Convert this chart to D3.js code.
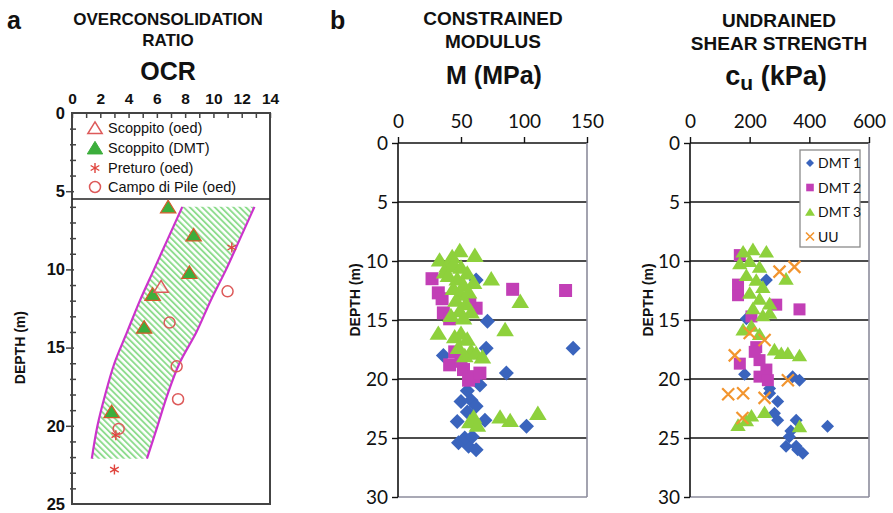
<!DOCTYPE html>
<html><head><meta charset="utf-8">
<script src="https://cdn.jsdelivr.net/npm/d3@7"></script>
<style>
body{margin:0;background:#fff}
svg{display:block}
text{fill:#111}
</style>
</head><body>
<svg id="fig" width="893" height="513"></svg>
<script>
// ---------------- data ----------------
// (a) overconsolidation ratio vs depth: [OCR, depth m]
const ocrTicks = [0, 2, 4, 6, 8, 10, 12, 14];
const depthTicksA = [0, 5, 10, 15, 20, 25];
const scoppitoOed = [[6.3, 11.1]];
const scoppitoDmt = [[6.8, 6.0], [8.6, 7.8], [8.3, 10.2], [5.7, 11.6], [5.1, 13.7], [2.8, 19.1]];
const preturoOed = [[11.3, 8.6], [3.1, 20.6], [3.0, 22.8]];
const campoDiPileOed = [[11.0, 11.4], [6.9, 13.4], [7.4, 16.2], [7.5, 18.3], [3.3, 20.2]];
// OCR band limits
const bandDepth = [6, 8, 10, 12, 14, 16, 18, 20, 22.1];
const bandLow = [7.8, 6.8, 5.8, 4.8, 3.9, 3.0, 2.35, 1.8, 1.4];
const bandHigh = [12.9, 11.9, 10.9, 9.8, 8.8, 7.6, 6.75, 6.05, 5.3];

// (b) constrained modulus: [M MPa, depth m]
const mTicks = [0, 50, 100, 150];
const depthTicksB = [0, 5, 10, 15, 20, 25, 30];
const mDmt1 = [[62, 11.6], [71, 15.1], [70, 17.4], [36, 18.0], [139, 17.4], [86, 19.5], [65, 20.5],
  [58, 21.8], [50, 21.9], [62, 22.3], [55, 21.0], [69, 23.5], [47, 23.6], [102, 24.0], [48, 25.4],
  [56, 25.7], [62, 26.0], [53, 25.0], [59, 24.9], [55, 22.8]];
const mDmt2 = [[27, 11.5], [32, 12.7], [35, 13.2], [91, 12.4], [133, 12.5], [36, 14.4], [41, 14.9],
  [62, 14.0], [57, 13.6], [41, 18.8], [52, 19.2], [60, 19.8], [56, 20.1], [65, 19.5], [45, 17.7], [50, 18.5]];
const mDmt3 = [[33, 9.9], [49, 9.1], [61, 9.5], [43, 9.6], [39, 10.4], [44, 10.2], [50, 10.5], [55, 11.0],
  [37, 10.9], [40, 11.2], [47, 11.5], [60, 11.8], [52, 12.0], [44, 12.3], [50, 12.8], [56, 12.6], [46, 13.3],
  [54, 13.6], [49, 14.2], [58, 14.3], [42, 14.6], [52, 14.8], [74, 11.5], [97, 13.4], [32, 16.1], [85, 15.8],
  [45, 16.4], [50, 16.1], [55, 16.6], [48, 17.3], [58, 17.6], [53, 18.0], [62, 17.8], [67, 18.1],
  [81, 23.2], [89, 23.5], [111, 22.9], [57, 23.6], [63, 23.9], [60, 23.2]];

// (c) undrained shear strength: [cu kPa, depth m]
const cuTicks = [0, 200, 400, 600];
const cuDmt1 = [[256, 11.6], [189, 14.9], [183, 19.6], [367, 20.1], [344, 19.8], [267, 21.2], [294, 21.9],
  [283, 22.9], [294, 23.5], [356, 23.5], [461, 24.0], [333, 24.9], [322, 25.7], [356, 25.7], [378, 26.3],
  [361, 26.0], [267, 20.8], [338, 24.4]];
const cuDmt2 = [[167, 9.5], [161, 12.0], [161, 12.9], [289, 13.7], [367, 14.1], [206, 14.7], [222, 17.3],
  [167, 18.7], [233, 18.4], [256, 19.2], [233, 19.8], [261, 20.1], [217, 17.7]];
const cuDmt3 = [[178, 9.2], [211, 9.0], [256, 9.2], [167, 10.2], [200, 10.0], [233, 10.5], [322, 11.5],
  [189, 11.2], [222, 11.6], [244, 12.2], [200, 12.7], [233, 13.2], [267, 13.6], [211, 14.0], [244, 14.6],
  [267, 14.4], [178, 15.8], [206, 15.5], [233, 16.2], [283, 17.5], [328, 17.8], [367, 18.0], [306, 17.8],
  [250, 22.8], [206, 23.1], [161, 23.9], [189, 23.5], [367, 24.0]];
const cuUU = [[300, 10.9], [350, 10.5], [200, 16.1], [250, 16.7], [150, 18.0], [328, 20.1], [128, 21.3],
  [178, 21.2], [250, 21.6], [176, 23.3]];

// ---------------- drawing ----------------
const svg = d3.select("#fig");
const BOLD = "'Liberation Sans', Arial, sans-serif";
const SOFT = "Lato, 'Open Sans', sans-serif";

const C = {blue: "#3a64bd", magenta: "#c23fb6", lime: "#8ed13c", orange: "#f2952f",
  red: "#e0453e", pink: "#dd5a5a", green: "#3cae3c", band: "#cc33cc", hatch: "#8edc8e"};

// marker paths centred on 0,0
const shape = {
  diamond: s => `M0,${-s}L${s},0L0,${s}L${-s},0Z`,
  square: s => `M${-s},${-s}H${s}V${s}H${-s}Z`,
  triangle: s => `M0,${-s * 0.95}L${s * 1.1},${s * 0.85}L${-s * 1.1},${s * 0.85}Z`,
  cross: s => `M${-s},${-s}L${s},${s}M${s},${-s}L${-s},${s}`,
  star: s => d3.range(3).map(i => {
    const a = i * Math.PI / 3 + Math.PI / 2;
    return `M${-s * Math.cos(a)},${-s * Math.sin(a)}L${s * Math.cos(a)},${s * Math.sin(a)}`;
  }).join("")
};

function title(lines, cx) {
  lines.forEach(l => {
    svg.append("text").attr("x", cx).attr("y", l.y).attr("text-anchor", "middle")
      .attr("font-family", BOLD).attr("font-weight", "bold").attr("font-size", l.size)
      .text(l.t);
  });
}

// ===== panel a =====
const xA = d3.scaleLinear().domain([0, 14]).range([72, 270]);
const yA = d3.scaleLinear().domain([0, 25]).range([113, 504]);
const gA = svg.append("g");

svg.append("text").attr("x", 7).attr("y", 29).attr("font-family", BOLD).attr("font-weight", "bold")
  .attr("font-size", 25).text("a");
title([{t: "OVERCONSOLIDATION", y: 25, size: 17}, {t: "RATIO", y: 46, size: 17},
  {t: "OCR", y: 80, size: 25}], 168);

// hatch pattern for the OCR band
const defs = svg.append("defs");
const pat = defs.append("pattern").attr("id", "hatch").attr("patternUnits", "userSpaceOnUse")
  .attr("width", 4.4).attr("height", 4.4).attr("patternTransform", "rotate(-45)");
pat.append("rect").attr("width", 4.4).attr("height", 4.4).attr("fill", "#fff");
pat.append("rect").attr("width", 1.9).attr("height", 4.4).attr("fill", C.hatch);

const bandData = bandDepth.map((d, i) => ({d, lo: bandLow[i], hi: bandHigh[i]}));
const bandArea = d3.area().y(p => yA(p.d)).x0(p => xA(p.lo)).x1(p => xA(p.hi)).curve(d3.curveCatmullRom);
gA.append("path").datum(bandData).attr("d", bandArea).attr("fill", "url(#hatch)");
const loLine = d3.line().y(p => yA(p.d)).x(p => xA(p.lo)).curve(d3.curveCatmullRom);
const hiLine = d3.line().y(p => yA(p.d)).x(p => xA(p.hi)).curve(d3.curveCatmullRom);
[loLine, hiLine].forEach(ln => gA.append("path").datum(bandData).attr("d", ln)
  .attr("fill", "none").attr("stroke", C.band).attr("stroke-width", 2.2));

// frame
gA.append("rect").attr("x", xA(0)).attr("y", yA(0)).attr("width", xA(14) - xA(0))
  .attr("height", yA(25) - yA(0)).attr("fill", "none").attr("stroke", "#444").attr("stroke-width", 2);
// legend separator
gA.append("line").attr("x1", xA(0)).attr("x2", xA(14)).attr("y1", yA(5.5)).attr("y2", yA(5.5))
  .attr("stroke", "#222").attr("stroke-width", 1.5);

// top axis: minor ticks inward every unit, labels every 2
const axTop = d3.axisTop(xA).tickValues(d3.range(0, 15)).tickSize(-5).tickPadding(9)
  .tickFormat(v => ocrTicks.includes(v) ? v : "");
const gxA = gA.append("g").attr("transform", `translate(0,${yA(0)})`).call(axTop);
gxA.select(".domain").remove();
gxA.selectAll("line").attr("stroke", "#444").attr("stroke-width", 1.5);
gxA.selectAll("text").attr("font-family", BOLD).attr("font-weight", "bold").attr("font-size", 15.5);

const axLeft = d3.axisLeft(yA).tickValues(d3.range(0, 26)).tickSize(4).tickPadding(6)
  .tickFormat(v => depthTicksA.includes(v) ? v : "");
const gyA = gA.append("g").attr("transform", `translate(${xA(0)},0)`).call(axLeft);
gyA.select(".domain").remove();
gyA.selectAll(".tick line").attr("stroke", "#444").attr("stroke-width", 1.5)
  .attr("x1", v => depthTicksA.includes(v) ? 2 : 4).attr("x2", v => depthTicksA.includes(v) ? -6 : -2);
gyA.selectAll(".tick").filter(v => v === 0 || v === 25).select("line").remove();
gyA.selectAll("text").attr("font-family", BOLD).attr("font-weight", "bold").attr("font-size", 16.5)
  .attr("x", -7);
svg.append("text").attr("transform", `translate(25,${yA(15)}) rotate(-90)`).attr("text-anchor", "middle")
  .attr("font-family", BOLD).attr("font-weight", "bold").attr("font-size", 14).text("DEPTH (m)");

// points
function drawA(data, path, style) {
  gA.selectAll(null).data(data).join("path")
    .attr("transform", p => `translate(${xA(p[0])},${yA(p[1])})`)
    .attr("d", path).call(style);
}
drawA(scoppitoDmt, shape.triangle(7), s => s.attr("fill", C.green).attr("stroke", "#d65a2a").attr("stroke-width", 1.2));
drawA(scoppitoOed, shape.triangle(6.5), s => s.attr("fill", "#fff").attr("fill-opacity", 0.6).attr("stroke", C.pink).attr("stroke-width", 1.5));
drawA(preturoOed, shape.star(5), s => s.attr("fill", "none").attr("stroke", C.red).attr("stroke-width", 1.4));
gA.selectAll(null).data(campoDiPileOed).join("circle")
  .attr("cx", p => xA(p[0])).attr("cy", p => yA(p[1])).attr("r", 5.5)
  .attr("fill", "none").attr("stroke", C.pink).attr("stroke-width", 1.5);

// legend
const legA = [
  {t: "Scoppito (oed)", y: 128, kind: "otri"},
  {t: "Scoppito (DMT)", y: 148, kind: "ftri"},
  {t: "Preturo (oed)", y: 168, kind: "star"},
  {t: "Campo di Pile (oed)", y: 187, kind: "circ"}];
legA.forEach(l => {
  const g = gA.append("g").attr("transform", `translate(95,${l.y})`);
  if (l.kind === "otri") g.append("path").attr("d", shape.triangle(6.5)).attr("fill", "none").attr("stroke", C.pink).attr("stroke-width", 1.5);
  if (l.kind === "ftri") g.append("path").attr("d", shape.triangle(7)).attr("fill", C.green).attr("stroke", C.green);
  if (l.kind === "star") g.append("path").attr("d", shape.star(5)).attr("stroke", C.red).attr("stroke-width", 1.4);
  if (l.kind === "circ") g.append("circle").attr("r", 5.5).attr("fill", "none").attr("stroke", C.pink).attr("stroke-width", 1.5);
  gA.append("text").attr("x", 108).attr("y", l.y + 5).attr("font-family", BOLD).attr("font-size", 14.5)
    .attr("fill", "#222").text(l.t);
});

// ===== panels b and c (spreadsheet style) =====
function depthPanel(opt) {
  const x = d3.scaleLinear().domain(opt.domain).range(opt.xr);
  const y = d3.scaleLinear().domain([0, 30]).range([143, 497]);
  const g = svg.append("g");
  // grid + frame
  depthTicksB.forEach(d => {
    g.append("line").attr("x1", x.range()[0]).attr("x2", x.range()[1]).attr("y1", y(d)).attr("y2", y(d))
      .attr("stroke", d === 30 ? "#8c8c9c" : "#111").attr("stroke-width", 1.6);
  });
  g.append("line").attr("x1", x.range()[1]).attr("x2", x.range()[1]).attr("y1", y(0)).attr("y2", y(30))
    .attr("stroke", "#8c8c9c").attr("stroke-width", 1.6);
  g.append("line").attr("x1", x.range()[0]).attr("x2", x.range()[0]).attr("y1", y(0)).attr("y2", y(30))
    .attr("stroke", "#111").attr("stroke-width", 1.6);

  const gx = g.append("g").attr("transform", `translate(0,${y(0)})`)
    .call(d3.axisTop(x).tickValues(opt.ticks).tickSize(6).tickPadding(9));
  gx.select(".domain").remove();
  gx.selectAll("line").attr("stroke", "#111").attr("stroke-width", 1.4);
  gx.selectAll("text").attr("font-family", SOFT).attr("font-size", 19).attr("fill", "#111");

  const gy = g.append("g").attr("transform", `translate(${x.range()[0]},0)`)
    .call(d3.axisLeft(y).tickValues(depthTicksB).tickSize(6).tickPadding(4));
  gy.select(".domain").remove();
  gy.selectAll("line").attr("stroke", "#111").attr("stroke-width", 1.4);
  gy.selectAll("text").attr("font-family", SOFT).attr("font-size", 19).attr("fill", "#111");

  svg.append("text").attr("transform", `translate(${opt.depthX},${y(13.3)}) rotate(-90)`)
    .attr("text-anchor", "middle").attr("font-family", BOLD).attr("font-weight", "bold")
    .attr("font-size", 14).text("DEPTH (m)");

  opt.series.forEach(s => {
    g.selectAll(null).data(s.data).join("path")
      .attr("transform", p => `translate(${x(p[0])},${y(p[1])})`)
      .attr("d", s.path)
      .attr("fill", s.stroke ? "none" : s.color)
      .attr("stroke", s.stroke ? s.color : "none")
      .attr("stroke-width", s.stroke || 0);
  });
  return {g, x, y};
}

// panel b
svg.append("text").attr("x", 330).attr("y", 29).attr("font-family", BOLD).attr("font-weight", "bold")
  .attr("font-size", 25).text("b");
title([{t: "CONSTRAINED", y: 25, size: 19}, {t: "MODULUS", y: 48, size: 19}], 493);
svg.append("text").attr("x", 494).attr("y", 84).attr("text-anchor", "middle").attr("font-family", BOLD)
  .attr("font-weight", "bold").attr("font-size", 25).text("M (MPa)");

depthPanel({
  domain: [0, 150], xr: [398, 587], ticks: mTicks, depthX: 360,
  series: [
    {data: mDmt1, color: C.blue, path: shape.diamond(7.5)},
    {data: mDmt2, color: C.magenta, path: shape.square(6.5)},
    {data: mDmt3, color: C.lime, path: shape.triangle(8)}]
});

// panel c
title([{t: "UNDRAINED", y: 27, size: 19}, {t: "SHEAR STRENGTH", y: 50, size: 19}], 779);
const cuTitle = svg.append("text").attr("x", 776).attr("y", 85).attr("text-anchor", "middle")
  .attr("font-family", BOLD).attr("font-weight", "bold").attr("font-size", 27);
cuTitle.append("tspan").text("c");
cuTitle.append("tspan").attr("font-size", 21).attr("dy", 5).text("u");
cuTitle.append("tspan").attr("dy", -5).text(" (kPa)");

const pc = depthPanel({
  domain: [0, 600], xr: [690, 869], ticks: cuTicks, depthX: 653,
  series: [
    {data: cuDmt1, color: C.blue, path: shape.diamond(6.5)},
    {data: cuDmt2, color: C.magenta, path: shape.square(6)},
    {data: cuDmt3, color: C.lime, path: shape.triangle(7)},
    {data: cuUU, color: C.orange, path: shape.cross(6), stroke: 2.2}]
});

// legend of panel c
const legC = pc.g.append("g").attr("transform", "translate(800,150)");
legC.append("rect").attr("width", 60).attr("height", 97).attr("fill", "#fff")
  .attr("stroke", "#8a8a8a").attr("stroke-width", 1.3);
const legItems = [
  {t: "DMT 1", color: C.blue, path: shape.diamond(4)},
  {t: "DMT 2", color: C.magenta, path: shape.square(3.8)},
  {t: "DMT 3", color: C.lime, path: shape.triangle(4.5)},
  {t: "UU", color: C.orange, path: shape.cross(4), stroke: 1.6}];
legItems.forEach((l, i) => {
  const yy = 13 + i * 24.5;
  legC.append("path").attr("transform", `translate(10,${yy})`).attr("d", l.path)
    .attr("fill", l.stroke ? "none" : l.color).attr("stroke", l.stroke ? l.color : "none")
    .attr("stroke-width", l.stroke || 0);
  legC.append("text").attr("x", 18).attr("y", yy + 5).attr("font-family", SOFT).attr("font-size", 14)
    .attr("fill", "#444").text(l.t);
});
</script>
</body></html>
